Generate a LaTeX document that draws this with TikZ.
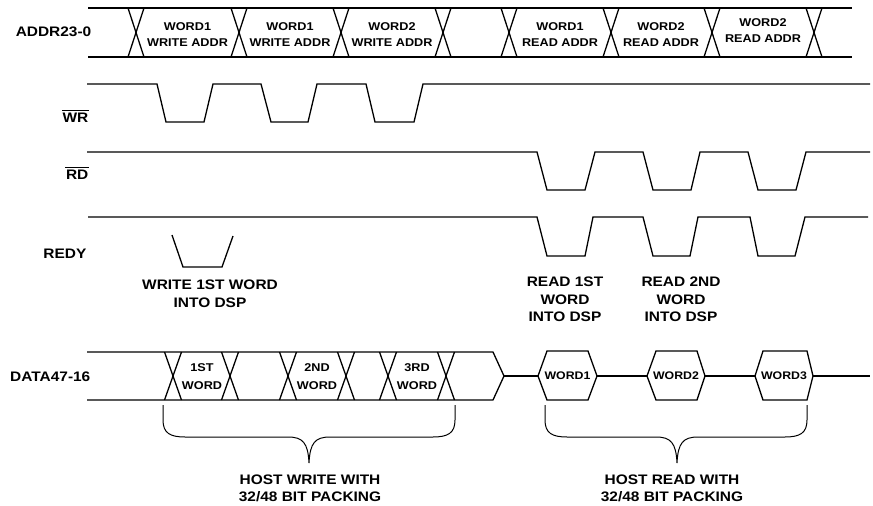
\documentclass[tikz,border=0pt]{standalone}
\usepackage{fontspec}
\setmainfont{Liberation Sans}[FakeStretch=1.12]
\begin{document}
\begin{tikzpicture}[x=1pt,y=-1pt, line width=1.3pt, line join=miter,
  lab/.style={font=\fontsize{13.8}{17.5}\selectfont\bfseries, inner sep=0pt, align=center},
  blab/.style={font=\fontsize{11.3}{16}\selectfont\bfseries, inner sep=0pt, align=center},
  dlab/.style={font=\fontsize{11.3}{18}\selectfont\bfseries, inner sep=0pt, align=center},
  hlab/.style={font=\fontsize{11}{16}\selectfont\bfseries, inner sep=0pt, align=center},
  bar/.style={line width=0.8pt}]
\useasboundingbox (0,0) rectangle (873,506);

% ---------- ADDR bus ----------
\draw (88,8) -- (852,8);
\draw (88,57) -- (852,57);
\foreach \c in {136,239,341,443,509,611,712,814}
  \draw (\c-8,8) -- (\c+8,57) (\c+8,8) -- (\c-8,57);
\node[lab, anchor=east] (addr) at (92,32) {ADDR23-0};
\node[blab] (a1) at (187.5,35) {WORD1\\WRITE ADDR};
\node[blab] (a2) at (290,35) {WORD1\\WRITE ADDR};
\node[blab] (a3) at (392,35) {WORD2\\WRITE ADDR};
\node[blab] (a4) at (560,35) {WORD1\\READ ADDR};
\node[blab] (a5) at (661,35) {WORD2\\READ ADDR};
\node[blab] (a6) at (763,31) {WORD2\\READ ADDR};

% ---------- WR ----------
\draw (87,84) -- (157,84) -- (166,122) -- (204,122) -- (213,84) -- (261,84) -- (271,122)
  -- (308,122) -- (317,84) -- (366,84) -- (375,122) -- (414,122) -- (423,84) -- (870,84);
\node[lab, anchor=east] (wr) at (89,118) {WR};
\draw[bar] ([yshift=2.5pt]wr.north west) -- ([yshift=2.5pt]wr.north east);

% ---------- RD ----------
\draw (87,152) -- (537,152) -- (547,190) -- (585,190) -- (595,152) -- (643,152) -- (653,190)
  -- (691,190) -- (700,152) -- (748,152) -- (758,190) -- (796,190) -- (806,152) -- (870,152);
\node[lab, anchor=east] (rd) at (89,175) {RD};
\draw[bar] ([yshift=2.5pt]rd.north west) -- ([yshift=2.5pt]rd.north east);

% ---------- REDY ----------
\draw (88,217) -- (537,217) -- (547,256) -- (585,256) -- (593,217) -- (643,217) -- (653,256)
  -- (690,256) -- (698,217) -- (750,217) -- (758,256) -- (795,256) -- (805,217) -- (868,217);
\draw (172,235) -- (183,267) -- (222,267) -- (233,236);
\node[lab, anchor=east] (redy) at (87,254) {REDY};
\node[lab] (c1) at (210,293.5) {WRITE 1ST WORD\\INTO DSP};
\node[lab] (c2) at (565,299.5) {READ 1ST\\WORD\\INTO DSP};
\node[lab] (c3) at (681,299.5) {READ 2ND\\WORD\\INTO DSP};

% ---------- DATA bus ----------
\draw (87,352) -- (493,352) -- (504,376) -- (493,400) -- (87,400);
\foreach \c in {173,230,288,346,388,446}
  \draw (\c-8.5,352) -- (\c+8.5,400) (\c+8.5,352) -- (\c-8.5,400);
\draw (504,376) -- (538,376);
\draw (538,376) -- (547,351) -- (588,351) -- (597,376) -- (588,400) -- (547,400) -- cycle;
\draw (597,376) -- (647,376);
\draw (647,376) -- (656,351) -- (697,351) -- (705,376) -- (697,400) -- (656,400) -- cycle;
\draw (705,376) -- (755,376);
\draw (755,376) -- (763,351) -- (807,351) -- (813,376) -- (807,400) -- (763,400) -- cycle;
\draw (813,376) -- (870,376);
\node[lab, anchor=east] (data) at (91,377) {DATA47-16};
\node[dlab] (d1) at (202,377) {1ST\\WORD};
\node[dlab] (d2) at (317,377) {2ND\\WORD};
\node[dlab] (d3) at (417,377) {3RD\\WORD};
\node[hlab] (w1) at (567.5,376) {WORD1};
\node[hlab] (w2) at (676,376) {WORD2};
\node[hlab] (w3) at (784,376) {WORD3};

% ---------- braces ----------
\draw[line width=1pt] (163,405) -- (163,420) .. controls (163,433) and (170,437) .. (185,437) -- (288,437)
  .. controls (303,437) and (308,443) .. (309,463)
  .. controls (310,443) and (315,437) .. (330,437) -- (433,437)
  .. controls (448,437) and (455,433) .. (455,420) -- (455,405);
\draw[line width=1pt] (545,405) -- (545,420) .. controls (545,433) and (552,437) .. (567,437) -- (656,437)
  .. controls (671,437) and (676,443) .. (677,463)
  .. controls (678,443) and (683,437) .. (698,437) -- (785,437)
  .. controls (800,437) and (807,433) .. (807,420) -- (807,405);
\node[lab] (h1) at (310,488.5) {HOST WRITE WITH\\32/48 BIT PACKING};
\node[lab] (h2) at (672,488.5) {HOST READ WITH\\32/48 BIT PACKING};
\end{tikzpicture}
\end{document}
